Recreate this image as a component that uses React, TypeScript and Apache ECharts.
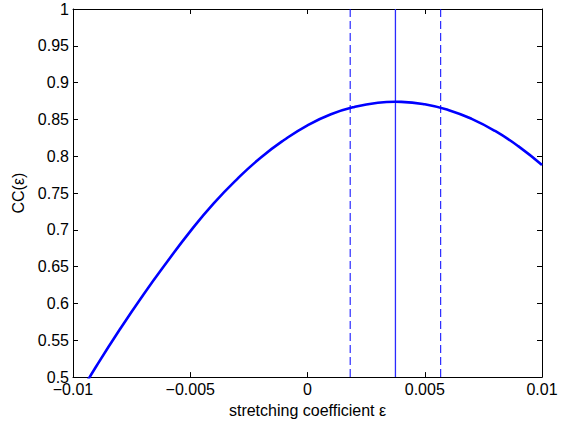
import React, { useEffect, useRef } from "react";
import * as echarts from "echarts";

// stretching coefficient (x) and CC(ε) (y)
const epsValues = [
  -0.01, -0.009, -0.008, -0.007, -0.006, -0.005, -0.004, -0.003, -0.002, -0.001,
  0, 0.001, 0.002, 0.003, 0.00375, 0.004, 0.005, 0.006, 0.007, 0.008, 0.009, 0.01,
];
const ccValues = [
  0.462, 0.515, 0.565, 0.612, 0.656, 0.698, 0.736, 0.769, 0.798, 0.822,
  0.842, 0.857, 0.867, 0.8727, 0.874, 0.8739, 0.8706, 0.8629, 0.8508, 0.8343, 0.8134, 0.788,
];
const peakEps = 0.00375;
const boundEps = [0.00182, 0.00568];
const xTicks = [-0.01, -0.005, 0, 0.005, 0.01];
const yRange = [0.5, 1];

const FONT = "'Liberation Sans', Arial, Helvetica, sans-serif";
const BLUE = "#0000ff";

const fmtX = (v: number) => String(Number(v.toFixed(4))).replace("-", "\u2212");
const fmtY = (v: number) => String(Number(v.toFixed(3)));

export default function App() {
  const ref = useRef<HTMLDivElement>(null);
  useEffect(() => {
    if (!ref.current) return;
    document.body.style.margin = "0";
    const chart = echarts.init(ref.current, undefined, { renderer: "svg" });
    const axisCommon = {
      axisLine: { show: true, onZero: false, lineStyle: { color: "#000", width: 1 } },
      axisTick: { show: true, inside: true, length: 5, lineStyle: { color: "#000", width: 1 } },
      splitLine: { show: false },
    };
    const curve = epsValues.map((x, i) => [x, ccValues[i]]);
    // [x, dashed?]
    const vlines = [[peakEps, 0], ...boundEps.map((x) => [x, 1])];
    chart.setOption({
      animation: false,
      backgroundColor: "#fff",
      color: [BLUE],
      grid: { left: 73, right: 29, top: 9, bottom: 44, containLabel: false },
      xAxis: [
        {
          type: "value",
          min: xTicks[0],
          max: xTicks[xTicks.length - 1],
          interval: 0.005,
          position: "bottom",
          ...axisCommon,
          axisLabel: { color: "#000", fontSize: 16, fontFamily: FONT, margin: 4, formatter: fmtX },
          name: "stretching coefficient \u03b5",
          nameLocation: "middle",
          nameGap: 22,
          nameTextStyle: { color: "#000", fontSize: 16, fontFamily: FONT, verticalAlign: "top" },
        },
        {
          type: "value",
          min: xTicks[0],
          max: xTicks[xTicks.length - 1],
          interval: 0.005,
          position: "top",
          ...axisCommon,
          axisLabel: { show: false },
        },
      ],
      yAxis: [
        {
          type: "value",
          min: yRange[0],
          max: yRange[1],
          interval: 0.05,
          position: "left",
          ...axisCommon,
          axisLabel: { color: "#000", fontSize: 16, fontFamily: FONT, margin: 4, formatter: fmtY },
          name: "CC(\u03b5)",
          nameLocation: "middle",
          nameGap: 39,
          nameTextStyle: { color: "#000", fontSize: 16, fontFamily: FONT },
        },
        {
          type: "value",
          min: yRange[0],
          max: yRange[1],
          interval: 0.05,
          position: "right",
          ...axisCommon,
          axisLabel: { show: false },
        },
      ],
      series: [
        {
          type: "line",
          data: curve,
          smooth: true,
          showSymbol: false,
          clip: true,
          color: BLUE,
          lineStyle: { color: BLUE, width: 2.6 },
        },
        {
          type: "custom",
          data: vlines,
          silent: true,
          renderItem: (params: any, api: any) => {
            const x = api.value(0);
            const dashed = api.value(1) === 1;
            const top = api.coord([x, yRange[1]]);
            const bot = api.coord([x, yRange[0]]);
            return {
              type: "line",
              shape: { x1: top[0], y1: top[1], x2: bot[0], y2: bot[1] },
              style: {
                stroke: dashed ? BLUE : "#2a2aff",
                lineWidth: dashed ? 1 : 1.3,
                lineDash: dashed ? [8, 4] : undefined,
              },
            };
          },
        },
      ],
    });
    return () => chart.dispose();
  }, []);
  return (
    <div ref={ref} style={{ position: "absolute", left: 0, top: 0, width: 571, height: 423 }} />
  );
}
